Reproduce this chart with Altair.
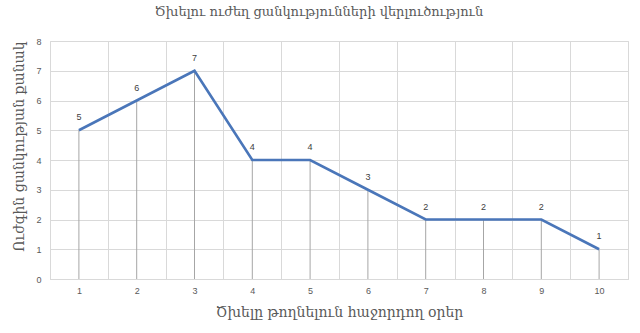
import altair as alt
import pandas as pd

days = [1, 2, 3, 4, 5, 6, 7, 8, 9, 10]
cravings = [5, 6, 7, 4, 4, 3, 2, 2, 2, 1]

title_text = "Ծխելու ուժեղ ցանկությունների վերլուծություն"
x_title = "Ծխելը թողնելուն հաջորդող օրեր"
y_title = "Ուժգին ցանկության քանակ"

df = pd.DataFrame({"day": days, "count": cravings})

ARM_FONT = "DejaVu Serif"
LABEL_FONT = "Liberation Sans"
GRID = "#D9D9D9"
TXT = "#595959"

x_enc = alt.X(
    "day:O",
    bandPosition=0.5,
    scale=alt.Scale(type="band", paddingInner=0, paddingOuter=0),
    axis=alt.Axis(
        title=x_title,
        labelAngle=0,
        tickBand="extent",
        grid=True,
        gridColor=GRID,
        ticks=False,
        domainColor=GRID,
        labelFont=LABEL_FONT,
        labelFontSize=9,
        labelColor=TXT,
        labelPadding=7,
        titleFont=ARM_FONT,
        titleFontSize=14,
        titleFontWeight="normal",
        titleColor=TXT,
        titleBaseline="alphabetic",
        titleY=37,
    ),
)

y_enc = alt.Y(
    "count:Q",
    scale=alt.Scale(domain=[0, 8], nice=False),
    axis=alt.Axis(
        title=y_title,
        values=[0, 1, 2, 3, 4, 5, 6, 7, 8],
        grid=True,
        gridColor=GRID,
        ticks=False,
        domain=False,
        labelFont=LABEL_FONT,
        labelFontSize=9,
        labelColor=TXT,
        labelPadding=9,
        titleFont=ARM_FONT,
        titleFontSize=14,
        titleFontWeight="normal",
        titleColor=TXT,
        titleBaseline="middle",
        titleX=-31,
        titleY=105,
    ),
)

base = alt.Chart(df)

drops = base.mark_rule(color="#A6A6A6", strokeWidth=1).encode(
    x=x_enc,
    y=y_enc,
    y2=alt.Y2(datum=0),
)

line = base.mark_line(color="#4A76B9", strokeWidth=2.6).encode(x=x_enc, y=y_enc)

labels = base.mark_text(
    font=LABEL_FONT, fontSize=9, color="#404040", dy=-13, baseline="middle"
).encode(x=x_enc, y=y_enc, text="count:Q")

chart = (
    alt.layer(drops, line, labels)
    .properties(
        width=578,
        height=238,
        title=alt.TitleParams(
            title_text,
            font=ARM_FONT,
            fontSize=13,
            fontWeight="normal",
            color=TXT,
            anchor="middle",
            offset=18,
            dx=-20,
        ),
        autosize=alt.AutoSizeParams(type="none"),
        padding={"left": 50, "top": 41, "right": 12, "bottom": 54},
    )
    .configure_view(stroke=None)
    .configure(background="white")
)

chart.save("out.html", embed_options={"renderer": "svg", "actions": False})
